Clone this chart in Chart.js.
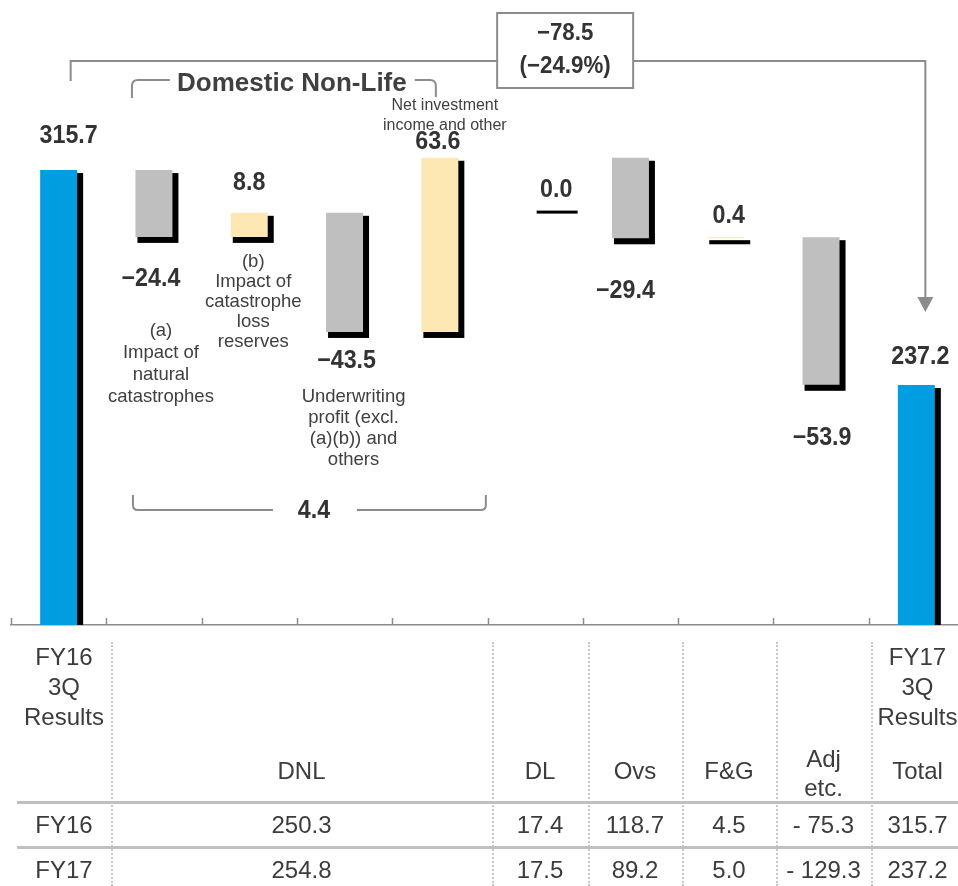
<!DOCTYPE html>
<html>
<head>
<meta charset="utf-8">
<script src="https://cdn.jsdelivr.net/npm/chart.js@4.4.1/dist/chart.umd.min.js"></script>
<style>
  html, body { margin: 0; padding: 0; background: #fff; overflow: hidden; width: 958px; height: 886px; }
  #wrap { position: absolute; left: 0; top: 0; width: 964px; height: 630px; }
  #tbl { position: absolute; left: 0; top: 0; width: 958px; height: 886px; font-family: "Liberation Sans", Arial, sans-serif; font-size: 24px; color: #3c3c3c; }
  .t { position: absolute; text-align: center; line-height: 30px; white-space: nowrap; }
  .vsep { position: absolute; top: 642px; height: 244px; border-left: 2px dotted #c8c8c8; }
  .hsep { position: absolute; left: 17px; width: 941px; height: 3px; background: #c0c0c0; }
</style>
</head>
<body>
<div id="wrap"><canvas id="bridge"></canvas></div>
<div id="tbl"></div>
<script>
// waterfall: FY16 3Q -> FY17 3Q
const categories = ["FY16 3Q Results", "(a) Impact of natural catastrophes", "(b) Impact of catastrophe loss reserves",
  "Underwriting profit (excl. (a)(b)) and others", "Net investment income and other",
  "DL", "Ovs", "F&G", "Adj etc.", "FY17 3Q Results"];
const changes = [315.7, -24.4, 8.8, -43.5, 63.6, 0.0, -29.4, 0.4, -53.9, 237.2];
const isTotal = [true, false, false, false, false, false, false, false, false, true];
const valueLabels = ["315.7", "\u221224.4", "8.8", "\u221243.5", "63.6", "0.0", "\u221229.4", "0.4", "\u221253.9", "237.2"];
const dlMarkerLevel = 302.0; // the slide draws the DL 0.0 marker lower than the running total

const totalChange = "\u221278.5";
const totalChangePct = "(\u221224.9%)";
const dnlSubtotal = "4.4";

// table under the chart
const tableHeads = ["DNL", "DL", "Ovs", "F&G", "Adj\netc.", "Total"];
const fy16Values = ["250.3", "17.4", "118.7", "4.5", "- 75.3", "315.7"];
const fy17Values = ["254.8", "17.5", "89.2", "5.0", "- 129.3", "237.2"];

const Y_MIN = 149.6, Y_MAX = 377.8;
const BLUE = "#009de0", GRAY = "#bfbfbf", TAN = "#fde8b4";
const LINE = "#8c8c8c", TXT = "#404040", NUM = "#333333";

// floating ranges from the running total
let run = 0;
const ranges = changes.map((v, i) => {
  if (isTotal[i]) { run = v; return [Y_MIN, v]; }
  const from = run;
  run = Math.round((run + v) * 10) / 10;
  return [from, run];
});
ranges[5] = [dlMarkerLevel, dlMarkerLevel];

const colors = changes.map((v, i) => isTotal[i] ? BLUE : v < 0 ? GRAY : v > 0 ? TAN : "rgba(0,0,0,0)");

// label tweaks (px) to sit like the slide
const shiftX = [0, 0, 0, 0, 0, 18, 0, 0, 0, 0];
const labelDx = [10, -3, 0, 2, -2, 21, -5, 3, 1, 4];
const labelDy = [-34, 42, -30, 29, -16, -17, 53, -21, 53, -28];

function boldNum(ctx, text, cx, cy, size) {
  ctx.save();
  ctx.translate(cx, cy);
  ctx.scale(0.93, 1);
  ctx.font = `bold ${size}px "Liberation Sans", Arial, sans-serif`;
  ctx.textAlign = "center";
  ctx.textBaseline = "middle";
  ctx.fillText(text, 0, 0);
  ctx.restore();
}

function textLines(ctx, lines, cx, firstMid, step, size) {
  ctx.font = `${size}px "Liberation Sans", Arial, sans-serif`;
  ctx.textAlign = "center";
  ctx.textBaseline = "middle";
  ctx.fillStyle = TXT;
  lines.forEach((t, k) => ctx.fillText(t, cx, firstMid + k * step));
}

const shadowPlugin = {
  id: "shadow",
  beforeDatasetsDraw(chart) {
    const ctx = chart.ctx, a = chart.chartArea;
    ctx.save();
    ctx.beginPath();
    ctx.rect(a.left, a.top, a.right - a.left, a.bottom - a.top);
    ctx.clip();
    ctx.fillStyle = "#000";
    chart.getDatasetMeta(0).data.forEach((bar, i) => {
      const top = Math.min(bar.y, bar.base), bottom = Math.max(bar.y, bar.base);
      const left = bar.x - bar.width / 2 + shiftX[i];
      ctx.fillRect(left + 2, top + 3, bar.width + 4, bottom - top + 3);
    });
    ctx.restore();
  }
};

const labelPlugin = {
  id: "labels",
  afterDatasetsDraw(chart) {
    const ctx = chart.ctx;
    ctx.fillStyle = NUM;
    chart.getDatasetMeta(0).data.forEach((bar, i) => {
      const top = Math.min(bar.y, bar.base), bottom = Math.max(bar.y, bar.base);
      const up = isTotal[i] || changes[i] >= 0;
      boldNum(ctx, valueLabels[i], bar.x + labelDx[i], (up ? top : bottom) + labelDy[i], 25);
    });
  }
};

const axisTicks = {
  id: "axisTicks",
  afterDraw(chart) {
    const ctx = chart.ctx, x = chart.scales.x, b = chart.chartArea.bottom;
    ctx.save();
    ctx.strokeStyle = LINE;
    ctx.lineWidth = 1.5;
    for (let i = 0; i <= categories.length; i++) {
      const px = Math.round(x.getPixelForValue(i - 0.5)) + 0.5;
      ctx.beginPath();
      ctx.moveTo(px, b - 7);
      ctx.lineTo(px, b);
      ctx.stroke();
    }
    ctx.restore();
  }
};

const notes = {
  id: "notes",
  afterDraw(chart) {
    const ctx = chart.ctx, x = chart.scales.x;
    const c = i => x.getPixelForValue(i);
    ctx.save();
    ctx.strokeStyle = LINE;
    ctx.lineWidth = 2;

    // overall change bracket with arrow
    const boxL = c(5) - 38, boxR = c(5) + 98;
    ctx.beginPath();
    ctx.moveTo(c(0) + 12, 81); ctx.lineTo(c(0) + 12, 61); ctx.lineTo(boxL, 61);
    ctx.moveTo(boxR, 61); ctx.lineTo(c(9) + 9, 61); ctx.lineTo(c(9) + 9, 298);
    ctx.stroke();
    ctx.fillStyle = LINE;
    ctx.beginPath();
    ctx.moveTo(c(9) + 1, 297); ctx.lineTo(c(9) + 17, 297); ctx.lineTo(c(9) + 9, 312);
    ctx.closePath(); ctx.fill();
    ctx.fillStyle = "#fff";
    ctx.fillRect(boxL, 13, boxR - boxL, 75);
    ctx.strokeRect(boxL, 13, boxR - boxL, 75);
    ctx.fillStyle = NUM;
    boldNum(ctx, totalChange, (boxL + boxR) / 2, 33, 24);
    boldNum(ctx, totalChangePct, (boxL + boxR) / 2, 66, 24);

    // Domestic Non-Life bracket
    const dl = c(1) - 22, dr = c(4) - 4;
    ctx.beginPath();
    ctx.moveTo(dl, 98); ctx.lineTo(dl, 86); ctx.quadraticCurveTo(dl, 80, dl + 6, 80); ctx.lineTo(dl + 38, 80);
    ctx.moveTo(dr - 21, 80); ctx.lineTo(dr - 6, 80); ctx.quadraticCurveTo(dr, 80, dr, 86); ctx.lineTo(dr, 97);
    ctx.stroke();
    ctx.fillStyle = TXT;
    ctx.font = 'bold 26px "Liberation Sans", Arial, sans-serif';
    ctx.textAlign = "center";
    ctx.textBaseline = "middle";
    ctx.fillText("Domestic Non-Life", (dl + dr) / 2 + 8, 84);

    // DNL subtotal bracket
    const sl = c(1) - 21, sr = c(4) + 46;
    ctx.beginPath();
    ctx.moveTo(sl, 495); ctx.lineTo(sl, 505); ctx.quadraticCurveTo(sl, 510, sl + 5, 510); ctx.lineTo(sl + 140, 510);
    ctx.moveTo(sr - 129, 510); ctx.lineTo(sr - 5, 510); ctx.quadraticCurveTo(sr, 510, sr, 505); ctx.lineTo(sr, 495);
    ctx.stroke();
    ctx.fillStyle = NUM;
    boldNum(ctx, dnlSubtotal, sl + 181, 511, 25);

    // item captions
    textLines(ctx, ["(a)", "Impact of", "natural", "catastrophes"], c(1) + 7, 331, 22, 18.5);
    textLines(ctx, ["(b)", "Impact of", "catastrophe", "loss", "reserves"], c(2) + 4, 262, 20, 18.5);
    textLines(ctx, ["Underwriting", "profit (excl.", "(a)(b)) and", "others"], c(3) + 9, 397, 21, 18.5);
    textLines(ctx, ["Net investment", "income and other"], c(4) + 5, 106, 20, 16);
    ctx.restore();
  }
};

new Chart(document.getElementById("bridge").getContext("2d"), {
  type: "bar",
  data: {
    labels: categories,
    datasets: [{
      data: ranges,
      backgroundColor: colors,
      borderWidth: 0,
      barPercentage: 0.388,
      categoryPercentage: 1.0
    }]
  },
  options: {
    responsive: true,
    maintainAspectRatio: false,
    animation: false,
    layout: { padding: { left: 11, right: 0, top: 0, bottom: 5 } },
    plugins: { legend: { display: false }, tooltip: { enabled: false } },
    scales: {
      x: {
        display: true,
        ticks: { display: false },
        grid: { display: true, drawOnChartArea: false, drawTicks: false },
        border: { display: true, color: LINE, width: 1.5 }
      },
      y: { display: false, min: Y_MIN, max: Y_MAX }
    }
  },
  plugins: [shadowPlugin, labelPlugin, axisTicks, notes]
});

// ---- table ----
const tbl = document.getElementById("tbl");
const colL = [17, 111, 492, 588, 682, 776, 871];
const colR = [111, 492, 588, 682, 776, 871, 964];

function cell(col, top, html, lh) {
  const d = document.createElement("div");
  d.className = "t";
  d.style.left = colL[col] + "px";
  d.style.width = (colR[col] - colL[col]) + "px";
  d.style.top = top + "px";
  if (lh) d.style.lineHeight = lh + "px";
  d.innerHTML = html;
  tbl.appendChild(d);
}

cell(0, 642, "FY16<br>3Q<br>Results");
cell(6, 642, "FY17<br>3Q<br>Results");
tableHeads.forEach((h, k) => {
  if (h.includes("\n")) cell(k + 1, 744, h.replace("\n", "<br>"), 29);
  else cell(k + 1, 756, h);
});
cell(0, 810, "FY16");
cell(0, 855, "FY17");
fy16Values.forEach((v, k) => cell(k + 1, 810, v));
fy17Values.forEach((v, k) => cell(k + 1, 855, v));

[111, 492, 588, 682, 776, 871].forEach(x => {
  const s = document.createElement("div");
  s.className = "vsep";
  s.style.left = x + "px";
  tbl.appendChild(s);
});
[801, 846].forEach(y => {
  const s = document.createElement("div");
  s.className = "hsep";
  s.style.top = y + "px";
  tbl.appendChild(s);
});
</script>
</body>
</html>
